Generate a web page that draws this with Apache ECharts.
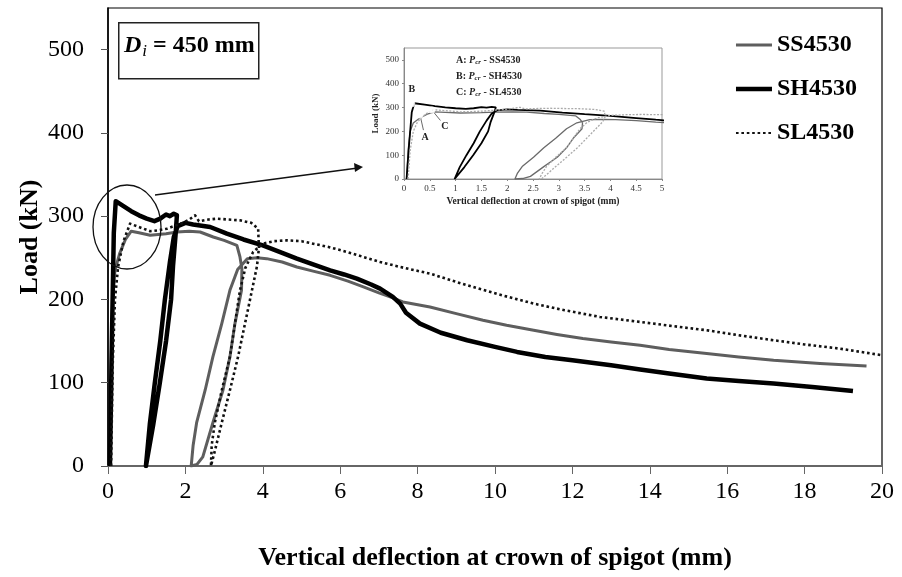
<!DOCTYPE html>
<html>
<head>
<meta charset="utf-8">
<script src="https://cdn.jsdelivr.net/npm/echarts@6/dist/echarts.min.js"></script>
<style>
  html, body { margin: 0; padding: 0; background: #fff; }
  #chart { width: 902px; height: 577px; }
</style>
</head>
<body>
<div id="chart"></div>
<script>
// deflection (mm), load (kN)
var ss4530 = [
  [0.05, 0], [0.08, 120], [0.12, 200], [0.18, 235], [0.3, 255], [0.45, 272], [0.6, 282], [0.8, 280],
  [1.09, 277], [1.5, 279], [1.78, 281], [2.1, 282], [2.38, 281], [2.72, 275], [3.0, 271], [3.33, 265],
  [3.41, 251], [3.46, 237], [3.45, 211], [3.28, 171], [3.15, 131], [2.97, 91], [2.71, 52], [2.45, 11],
  [2.3, 2], [2.15, 0], [2.12, 0], [2.2, 25], [2.29, 52], [2.51, 91], [2.71, 131], [2.94, 171],
  [3.15, 211], [3.35, 236], [3.6, 249], [3.85, 250], [4.1, 249], [4.5, 245], [4.88, 239], [5.3, 234],
  [5.74, 229], [6.2, 222], [6.6, 215], [7.0, 208], [7.29, 203], [7.62, 197], [8.32, 191], [9.0, 183],
  [9.69, 175], [10.3, 169], [11.0, 163], [11.6, 158], [12.27, 153], [13.0, 149], [13.75, 145], [14.5, 140],
  [15.47, 135], [16.3, 131], [17.2, 127], [18.4, 123], [19.6, 120]
];
var sh4530 = [
  [0.05, 0], [0.1, 150], [0.15, 280], [0.2, 318], [0.4, 312], [0.6, 306], [0.8, 301], [1.0, 297],
  [1.2, 294], [1.35, 297], [1.5, 302], [1.6, 300], [1.7, 303], [1.78, 301], [1.75, 280], [1.68, 240],
  [1.63, 200], [1.5, 150], [1.34, 100], [1.17, 50], [0.98, 0], [0.95, 0], [1.08, 50], [1.21, 100],
  [1.35, 150], [1.47, 200], [1.6, 245], [1.7, 275], [1.8, 288], [2.0, 292], [2.2, 290], [2.64, 287],
  [3.07, 279], [3.5, 272], [4.0, 265], [4.5, 256], [4.88, 249], [5.3, 242], [5.74, 235], [6.1, 230],
  [6.43, 225], [6.8, 218], [7.03, 213], [7.36, 203], [7.55, 195], [7.7, 184], [8.06, 171], [8.6, 160],
  [9.28, 151], [10.0, 143], [10.57, 137], [11.3, 131], [12.0, 127], [13.0, 121], [13.75, 116], [14.5, 111],
  [15.47, 105], [16.3, 102], [17.2, 99], [18.2, 95], [19.25, 90]
];
var sl4530 = [
  [0.08, 0], [0.12, 120], [0.18, 200], [0.26, 239], [0.4, 270], [0.57, 291], [0.8, 287], [1.09, 282],
  [1.3, 283], [1.52, 285], [1.94, 292], [2.1, 296], [2.25, 301], [2.35, 294], [2.6, 296], [2.82, 297],
  [3.1, 296], [3.41, 295], [3.7, 292], [3.88, 285], [3.9, 262], [3.85, 240], [3.72, 211], [3.54, 171],
  [3.36, 131], [3.15, 91], [2.94, 52], [2.76, 18], [2.66, 0], [2.62, 0], [2.68, 25], [2.76, 52],
  [2.94, 91], [3.15, 131], [3.28, 171], [3.41, 211], [3.55, 238], [3.75, 257], [4.0, 267], [4.3, 270],
  [4.62, 271], [5.0, 270], [5.3, 267], [5.7, 263], [6.18, 257], [6.6, 251], [7.03, 245], [7.55, 239],
  [8.32, 231], [8.8, 224], [9.28, 217], [10.1, 206], [11.0, 195], [11.8, 187], [12.71, 179], [13.75, 173],
  [14.6, 168], [15.47, 163], [16.3, 157], [17.2, 151], [18.0, 146], [18.9, 141], [20.0, 133]
];
// cracking loads marked in the inset
var crackNames = ['A', 'B', 'C'];
var crackPts = [[0.31, 269], [0.15, 316], [0.54, 290]];
var yTicks = [0, 100, 200, 300, 400, 500];

var serif = '"Liberation Serif", "DejaVu Serif", serif';
var chart = echarts.init(document.getElementById('chart'));

function mainLine(name, data, color, width, type) {
  return {
    name: name, type: 'line', data: data, showSymbol: false, symbol: 'none',
    xAxisIndex: 0, yAxisIndex: 0, z: 3,
    lineStyle: { color: color, width: width, type: type, join: 'round' },
    itemStyle: { color: color }
  };
}
function insetLine(name, data, color, width, type) {
  return {
    name: name, type: 'line', data: data, showSymbol: false, symbol: 'none',
    xAxisIndex: 1, yAxisIndex: 1, z: 6, clip: true,
    lineStyle: { color: color, width: width, type: type },
    itemStyle: { color: color }
  };
}

var option = {
  animation: false,
  backgroundColor: '#fff',
  textStyle: { fontFamily: serif },
  legend: {
    data: [
      { name: 'SS4530', lineStyle: { width: 3 } },
      { name: 'SH4530', lineStyle: { width: 4.5 } },
      { name: 'SL4530', lineStyle: { width: 2 } }
    ],
    orient: 'vertical', right: 40, top: 28,
    itemWidth: 36, itemHeight: 24, itemGap: 20,
    itemStyle: { opacity: 0 },
    textStyle: { fontFamily: serif, fontSize: 24, fontWeight: 'bold', color: '#000' }
  },
  grid: [
    { left: 108, right: 20, top: 8, bottom: 111, show: true, borderColor: '#000', borderWidth: 1.2 },
    { left: 404, top: 48, width: 258, height: 131, show: true, borderColor: '#999', borderWidth: 1, backgroundColor: '#fff', z: 5 }
  ],
  xAxis: [
    {
      gridIndex: 0, type: 'value', min: 0, max: 20, interval: 2,
      name: 'Vertical deflection at crown of spigot (mm)', nameLocation: 'middle', nameGap: 79,
      nameTextStyle: { fontFamily: serif, fontSize: 26, fontWeight: 'bold', color: '#000' },
      axisLine: { lineStyle: { color: '#666', width: 2 } },
      axisTick: { inside: false, length: 8, lineStyle: { color: '#666', width: 1 } },
      axisLabel: { fontFamily: serif, fontSize: 24, color: '#000', margin: 14 },
      splitLine: { show: false }
    },
    {
      gridIndex: 1, type: 'value', min: 0, max: 5, interval: 0.5,
      name: 'Vertical deflection at crown of spigot (mm)', nameLocation: 'middle', nameGap: 18,
      nameTextStyle: { fontFamily: serif, fontSize: 9.5, fontWeight: 'bold', color: '#222' },
      axisLine: { lineStyle: { color: '#888', width: 1 } },
      axisTick: { length: 2, lineStyle: { color: '#888' } },
      axisLabel: { fontFamily: serif, fontSize: 9, color: '#333', margin: 5 },
      splitLine: { show: false }, z: 6
    }
  ],
  yAxis: [
    {
      gridIndex: 0, type: 'value', min: 0, max: 550, interval: 100,
      name: 'Load (kN)', nameLocation: 'middle', nameGap: 65, nameMoveOverlap: false,
      nameTextStyle: { fontFamily: serif, fontSize: 26, fontWeight: 'bold', color: '#000' },
      axisLine: { show: true, lineStyle: { color: '#000', width: 1.5 } },
      axisTick: { show: true, length: 7, customValues: yTicks, lineStyle: { color: '#555' } },
      axisLabel: { fontFamily: serif, fontSize: 24, color: '#000', margin: 24, customValues: yTicks },
      splitLine: { show: false }
    },
    {
      gridIndex: 1, type: 'value', min: 0, max: 550, interval: 100,
      name: 'Load (kN)', nameLocation: 'middle', nameGap: 24,
      nameTextStyle: { fontFamily: serif, fontSize: 9, fontWeight: 'bold', color: '#222' },
      axisLine: { show: true, lineStyle: { color: '#888', width: 1 } },
      axisTick: { show: true, length: 2, customValues: yTicks, lineStyle: { color: '#888' } },
      axisLabel: { fontFamily: serif, fontSize: 9, color: '#333', margin: 5, customValues: yTicks },
      splitLine: { show: false }, z: 6
    }
  ],
  series: [
    mainLine('SS4530', ss4530, '#5e5e5e', 3, 'solid'),
    mainLine('SH4530', sh4530, '#000', 4.5, 'solid'),
    mainLine('SL4530', sl4530, '#111', 2.6, [2.6, 2.8]),
    insetLine('SS4530 inset', ss4530, '#6a6a6a', 1.3, 'solid'),
    insetLine('SH4530 inset', sh4530, '#000', 1.8, 'solid'),
    insetLine('SL4530 inset', sl4530, '#aaa', 1.3, [2, 1.5]),
    {
      name: 'Pcr', type: 'scatter', xAxisIndex: 1, yAxisIndex: 1, z: 7,
      data: crackPts, symbol: 'emptyCircle', symbolSize: 5,
      itemStyle: { color: '#fff', borderColor: '#444', borderWidth: 1 }
    }
  ]
};
chart.setOption(option);

// annotations: Di box, circled region, arrow to inset, A/B/C callouts
var g = [];
g.push({
  type: 'rect', left: 118, top: 22, z: 10,
  shape: { width: 140, height: 56 },
  style: { fill: '#fff', stroke: '#222', lineWidth: 1.5 }
});
g.push({
  type: 'text', left: 124, top: 34, z: 11,
  style: {
    text: '{d|D}{s|i}{t| = 450 mm}',
    rich: {
      d: { fontFamily: serif, fontSize: 24, fontWeight: 'bold', fontStyle: 'italic', fill: '#000' },
      s: { fontFamily: serif, fontSize: 17, fontStyle: 'italic', fill: '#000', padding: [12, 0, 0, 1] },
      t: { fontFamily: serif, fontSize: 24, fontWeight: 'bold', fill: '#000' }
    }
  }
});
g.push({
  type: 'ellipse', z: 8,
  shape: { cx: 127, cy: 227, rx: 34, ry: 42 },
  style: { fill: 'none', stroke: '#111', lineWidth: 1.3 }
});
g.push({
  type: 'line', z: 8,
  shape: { x1: 155, y1: 195, x2: 358, y2: 168 },
  style: { stroke: '#111', lineWidth: 1.3 }
});
g.push({
  type: 'polygon', z: 8,
  shape: { points: [[363, 167], [354, 163], [355, 172]] },
  style: { fill: '#111' }
});

var legendLines = [
  ['A: ', 'SS4530'],
  ['B: ', 'SH4530'],
  ['C: ', 'SL4530']
];
legendLines.forEach(function (l, i) {
  g.push({
    type: 'text', left: 456, top: 55 + i * 16, z: 12,
    style: {
      text: '{b|' + l[0] + '}{p|P}{c|cr}{b| - ' + l[1] + '}',
      rich: {
        b: { fontFamily: serif, fontSize: 10, fontWeight: 'bold', fill: '#222' },
        p: { fontFamily: serif, fontSize: 10, fontWeight: 'bold', fontStyle: 'italic', fill: '#222' },
        c: { fontFamily: serif, fontSize: 7, fontWeight: 'bold', fontStyle: 'italic', fill: '#222', padding: [5, 0, 0, 0] }
      }
    }
  });
});

// callout label offsets (px) for A, B, C
var labelOff = [[5, 22], [0, -14], [13, 16]];
crackPts.forEach(function (p, i) {
  var px = chart.convertToPixel({ gridIndex: 1 }, p);
  var lx = px[0] + labelOff[i][0], ly = px[1] + labelOff[i][1];
  g.push({
    type: 'text', x: lx, y: ly, z: 12,
    style: { text: crackNames[i], fontFamily: serif, fontSize: 10, fontWeight: 'bold', fill: '#222', align: 'center', verticalAlign: 'middle' }
  });
  if (i !== 1) {
    var dx = px[0] - lx, dy = px[1] - ly, len = Math.sqrt(dx * dx + dy * dy);
    var sx = lx + dx / len * 7, sy = ly + dy / len * 7;
    var ex = px[0] - dx / len * 4, ey = px[1] - dy / len * 4;
    g.push({
      type: 'line', z: 12,
      shape: { x1: sx, y1: sy, x2: ex, y2: ey },
      style: { stroke: '#444', lineWidth: 0.8 }
    });
  }
});

chart.setOption({ graphic: g });
</script>
</body>
</html>
